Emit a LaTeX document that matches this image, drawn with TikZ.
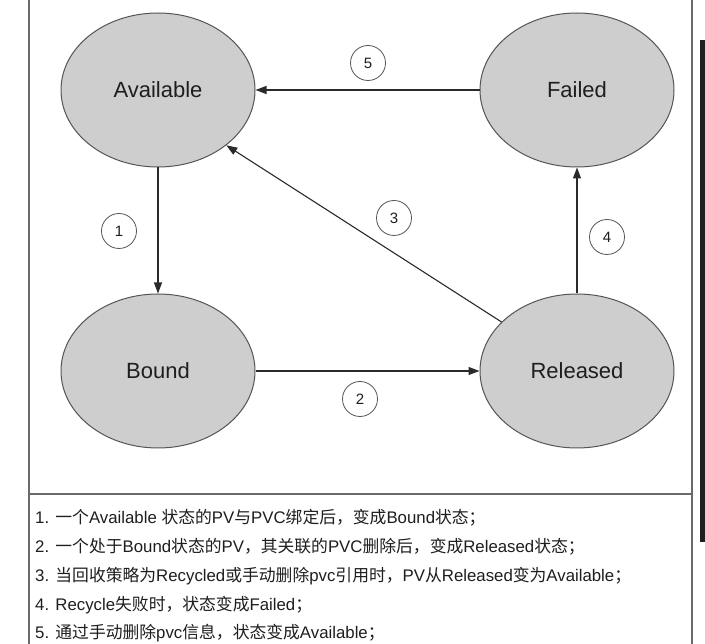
\documentclass[tikz,border=0pt]{standalone}
\usepackage{fontspec}
\setmainfont{Liberation Sans}
\newfontfamily\cjk{Noto Sans CJK SC}
\usetikzlibrary{arrows.meta,shapes.geometric}
\definecolor{fillgray}{HTML}{CECECE}
\definecolor{edgegray}{HTML}{555555}
\definecolor{framegray}{HTML}{6A6A6A}
\definecolor{linecol}{HTML}{2A2A2A}
\definecolor{txt}{HTML}{1E1E1E}
\tikzset{
  state/.style={ellipse, draw=edgegray, fill=fillgray, line width=1pt,
    minimum width=194pt, minimum height=154pt, inner sep=0pt,
    font=\fontsize{22}{26}\selectfont, text=txt},
  num/.style={circle, draw=edgegray, line width=0.8pt, fill=white,
    minimum size=35pt, inner sep=0pt, font=\fontsize{15}{18}\selectfont, text=txt},
  trans/.style={draw=linecol, line width=1.1pt, -{Triangle[length=11pt,width=8pt]}},
  frameline/.style={draw=framegray, line width=1.5pt},
  note/.style={anchor=base west, inner sep=0pt, font=\fontsize{16.8}{19}\selectfont, text=txt}
}
\begin{document}
\begin{tikzpicture}[x=1pt,y=-1pt]
\useasboundingbox (0,0) rectangle (705,644);
\fill[white] (0,0) rectangle (705,644);
% frame
\coordinate (ftl) at (29,0);
\coordinate (fbl) at (29,644);
\coordinate (ftr) at (692,0);
\coordinate (fbr) at (692,644);
\coordinate (sepl) at (29,494);
\coordinate (sepr) at (692,494);
\draw[frameline] (ftl) -- (fbl);
\draw[frameline] (ftr) -- (fbr);
\draw[frameline] (sepl) -- (sepr);
\fill[black!88] (700,40) rectangle (705,542);
% states
\node[state] (avail) at (158,90) {Available};
\node[state] (failed) at (577,90) {Failed};
\node[state] (bound) at (158,371) {Bound};
\node[state] (rel) at (577,371) {Released};
% transitions
\draw[trans] (failed.west) -- (avail.east);
\draw[trans] (avail.south) -- (bound.north);
\draw[trans] (bound.east) -- (rel.west);
\draw[trans] (rel.147.5) -- (avail.-39.6);
\draw[trans] (rel.north) -- (failed.south);
% numbers
\node[num] (n5) at (368,63) {5};
\node[num] (n1) at (119,231) {1};
\node[num] (n2) at (360,399) {2};
\node[num] (n3) at (394,218) {3};
\node[num] (n4) at (607,237) {4};
% notes
\node[note] (t1) at (35,523) {1. {\cjk 一个}Available {\cjk 状态的}PV{\cjk 与}PVC{\cjk 绑定后，变成}Bound{\cjk 状态；}};
\node[note] (t2) at (35,552) {2. {\cjk 一个处于}Bound{\cjk 状态的}PV{\cjk ，其关联的}PVC{\cjk 删除后，变成}Released{\cjk 状态；}};
\node[note] (t3) at (35,581) {3. {\cjk 当回收策略为}Recycled{\cjk 或手动删除}pvc{\cjk 引用时，}PV{\cjk 从}Released{\cjk 变为}Available{\cjk ；}};
\node[note] (t4) at (35,610) {4. Recycle{\cjk 失败时，状态变成}Failed{\cjk ；}};
\node[note] (t5) at (35,638) {5. {\cjk 通过手动删除}pvc{\cjk 信息，状态变成}Available{\cjk ；}};
\end{tikzpicture}
\end{document}
